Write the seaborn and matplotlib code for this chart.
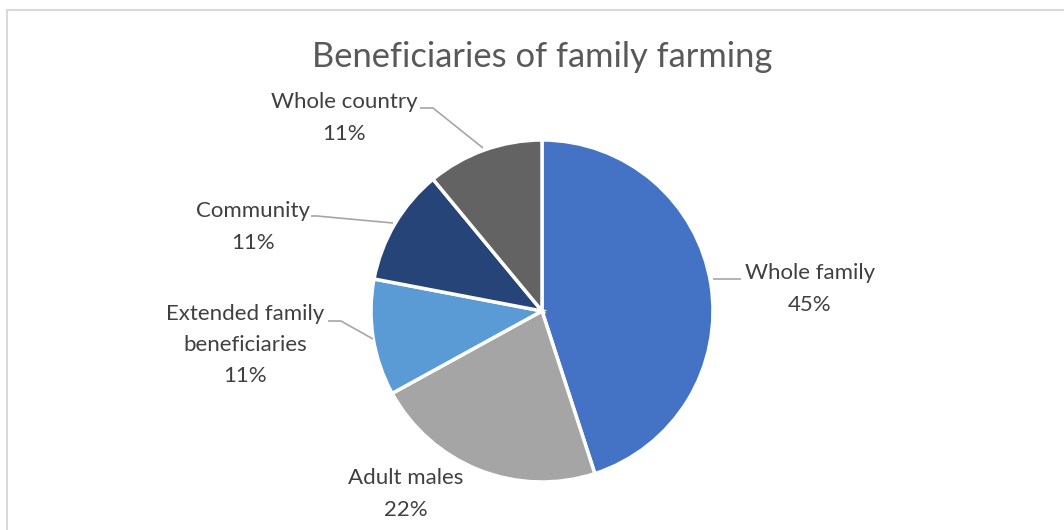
import matplotlib
matplotlib.use("Agg")
import matplotlib.pyplot as plt
import seaborn as sns
from matplotlib.lines import Line2D

categories = ["Whole family", "Adult males", "Extended family\nbeneficiaries", "Community", "Whole country"]
values = [45, 22, 11, 11, 11]
pct_labels = ["45%", "22%", "11%", "11%", "11%"]
colors = ["#4472C4", "#A5A5A5", "#5B9BD5", "#264478", "#636363"]

sns.set_theme(style="white")
plt.rcParams['font.family'] = ['Lato', 'DejaVu Sans']

W, H = 1064, 530
fig = plt.figure(figsize=(W / 100, H / 100), dpi=100)
ax = fig.add_axes([0, 0, 1, 1])

cx, cy, R = 542, H - 311, 171
ax.pie(values, colors=colors, startangle=90, counterclock=False,
       center=(cx, cy), radius=R,
       wedgeprops=dict(edgecolor="white", linewidth=2.5))
ax.set_xlim(0, W)
ax.set_ylim(0, H)
ax.set_aspect("equal")
ax.axis("off")

def py(y):
    return H - y

lead_color = "#A6A6A6"
txt_color = "#404040"
fs = 16

# label positions (px, top-left origin) and leader line paths
label_pos = [(810, 289), (406, 494), (245, 345), (253, 227), (344, 118)]
leaders = [
    [(713, 279), (741, 279)],
    None,
    [(373, 339), (341, 321), (328, 321)],
    [(393, 223), (317, 216), (311, 216)],
    [(483, 148), (433, 108), (420, 108)],
]

for cat, pct, (lx, ly), ld in zip(categories, pct_labels, label_pos, leaders):
    ax.text(lx, py(ly), f"{cat}\n{pct}", ha="center", va="center",
            fontsize=fs, color=txt_color, linespacing=1.7)
    if ld is not None:
        xs = [p[0] for p in ld]
        ys = [py(p[1]) for p in ld]
        ax.plot(xs, ys, color=lead_color, lw=1.2, solid_capstyle="butt")

fig.text(542 / W, 1 - 57 / H, "Beneficiaries of family farming", ha="center", va="center",
         fontsize=24.8, color="#595959")

# chart border
bc = "#D9D9D9"
fig.add_artist(Line2D([7 / W, 7 / W], [0, 1 - 10 / H], transform=fig.transFigure, color=bc, lw=1.5))
fig.add_artist(Line2D([7 / W, 1], [1 - 10 / H, 1 - 10 / H], transform=fig.transFigure, color=bc, lw=1.5))

fig.savefig("out.png", dpi=100, facecolor="white")
